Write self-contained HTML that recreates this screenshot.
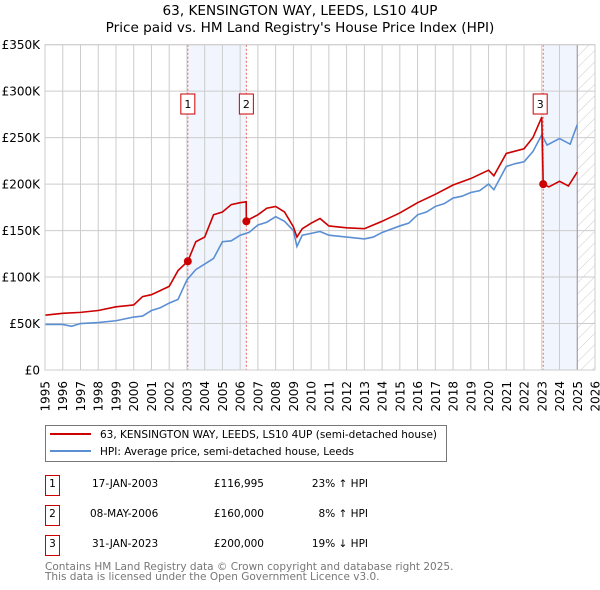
<!DOCTYPE html>
<html><head><meta charset="utf-8"><style>
body{margin:0;background:#fff;font-family:"DejaVu Sans","Liberation Sans",sans-serif;}
svg{display:block}
</style></head><body>
<svg id="chart" width="600" height="590" xmlns="http://www.w3.org/2000/svg" font-family="DejaVu Sans, Liberation Sans, sans-serif">
<defs><pattern id="hatch" width="8" height="8" patternUnits="userSpaceOnUse" patternTransform="rotate(45)"><line x1="0" y1="0" x2="0" y2="8" stroke="#ccc" stroke-width="1"/></pattern></defs>
<text x="300" y="15" text-anchor="middle" font-size="13.6">63, KENSINGTON WAY, LEEDS, LS10 4UP</text>
<text x="300" y="32" text-anchor="middle" font-size="13.6">Price paid vs. HM Land Registry's House Price Index (HPI)</text>
<g id="plot"></g>
<g>
<rect x="45.5" y="425.5" width="401" height="36" fill="#fff" stroke="#777"/>
<line x1="50" y1="434" x2="91" y2="434" stroke="#cc0000" stroke-width="2"/>
<text x="100" y="438" font-size="10.5">63, KENSINGTON WAY, LEEDS, LS10 4UP (semi-detached house)</text>
<line x1="50" y1="451" x2="91" y2="451" stroke="#5b8fd4" stroke-width="2"/>
<text x="100" y="455" font-size="10.5">HPI: Average price, semi-detached house, Leeds</text>
</g>
<g font-size="10.5">
<rect x="45.5" y="475.5" width="14" height="20" fill="#fff" stroke="#cc0000"/><text x="52.5" y="487" text-anchor="middle">1</text>
<text x="92" y="487">17-JAN-2003</text><text x="264" y="487" text-anchor="end">£116,995</text><text x="368" y="487" text-anchor="end">23% ↑ HPI</text>
<rect x="45.5" y="505.5" width="14" height="20" fill="#fff" stroke="#cc0000"/><text x="52.5" y="517" text-anchor="middle">2</text>
<text x="90" y="517">08-MAY-2006</text><text x="264" y="517" text-anchor="end">£160,000</text><text x="368" y="517" text-anchor="end">8% ↑ HPI</text>
<rect x="45.5" y="535.5" width="14" height="20" fill="#fff" stroke="#cc0000"/><text x="52.5" y="547" text-anchor="middle">3</text>
<text x="92" y="547">31-JAN-2023</text><text x="264" y="547" text-anchor="end">£200,000</text><text x="368" y="547" text-anchor="end">19% ↓ HPI</text>
</g>
<text x="45" y="570" font-size="10.5" fill="#777">Contains HM Land Registry data © Crown copyright and database right 2025.</text>
<text x="45" y="580" font-size="10.5" fill="#777">This data is licensed under the Open Government Licence v3.0.</text>
</svg>
<script>
const yTicks=[0,50,100,150,200,250,300,350];
const yLabels=["£0","£50K","£100K","£150K","£200K","£250K","£300K","£350K"];
const years=[1995,1996,1997,1998,1999,2000,2001,2002,2003,2004,2005,2006,2007,2008,2009,2010,2011,2012,2013,2014,2015,2016,2017,2018,2019,2020,2021,2022,2023,2024,2025,2026];
const hpiT=[1995,1996,1996.5,1997,1998,1999,1999.5,2000,2000.5,2001,2001.5,2002,2002.5,2003,2003.5,2004,2004.5,2005,2005.5,2006,2006.5,2007,2007.5,2008,2008.5,2009,2009.2,2009.5,2010,2010.5,2011,2012,2013,2013.5,2014,2015,2015.5,2016,2016.5,2017,2017.5,2018,2018.5,2019,2019.5,2020,2020.3,2021,2021.5,2022,2022.5,2023,2023.3,2024,2024.6,2025];
const hpiV=[49,49,47,50,51,53,55,57,58,64,67,72,76,97,108,114,120,138,139,145,148,156,159,165,160,150,133,145,147,149,145,143,141,143,148,155,158,167,170,176,179,185,187,191,193,200,194,219,222,224,235,253,242,249,243,264];
const priceT=[1995,1996,1997,1998,1999,2000,2000.5,2001,2002,2002.5,2003.05,2003.5,2004,2004.5,2005,2005.5,2006,2006.34,2006.35,2006.5,2007,2007.5,2008,2008.5,2009,2009.2,2009.5,2010,2010.5,2011,2012,2013,2014,2015,2016,2017,2018,2019,2020,2020.3,2021,2022,2022.5,2023.0,2023.08,2023.4,2024,2024.5,2025];
const priceV=[59,61,62,64,68,70,79,81,90,107,117,138,143,167,170,178,180,181,160,162,167,174,176,170,154,143,152,158,163,155,153,152,160,169,180,189,199,206,215,209,233,238,250,272,200,197,203,198,213];
const saleT=[2003.05,2006.35,2023.08];
const saleV=[116.995,160,200];
const X0=45,X1=595,Y0=370,Y1=44.7;
const xs=y=>X0+(y-1995)*(X1-X0)/31;
const ys=v=>Y0-(v/350)*(Y0-Y1);
const NS="http://www.w3.org/2000/svg";
const g=document.getElementById('plot');
function mk(t,a,p){const e=document.createElementNS(NS,t);for(const k in a)e.setAttribute(k,a[k]);(p||g).appendChild(e);return e;}
let e;
e=mk('rect',{x:xs(saleT[0]),y:Y1,width:xs(saleT[1])-xs(saleT[0]),height:Y0-Y1,fill:'#eef3fc',opacity:0.8});


e=mk('rect',{x:xs(saleT[2]),y:Y1,width:xs(2025)-xs(saleT[2]),height:Y0-Y1,fill:'#eef3fc',opacity:0.8});


e=mk('rect',{x:xs(2025),y:Y1,width:X1-xs(2025),height:Y0-Y1,fill:'url(#hatch)'});


yTicks.forEach((v,i)=>{
 e=mk('line',{x1:X0,x2:X1,y1:ys(v),y2:ys(v),stroke:'#ccc','stroke-width':1});
 
 
 e=mk('text',{x:40,y:ys(v)+4.5,'text-anchor':'end','font-size':'12'});e.textContent=yLabels[i];
 
 
});
years.forEach(y=>{
 e=mk('line',{x1:xs(y),x2:xs(y),y1:Y1,y2:Y0,stroke:'#ccc','stroke-width':1});
 
 
 e=mk('text',{x:0,y:0,'font-size':'12',transform:`translate(${xs(y)+4.5},${Y0+11}) rotate(-90)`,'text-anchor':'end'});e.textContent=y;
 
 
});
e=mk('line',{x1:xs(2025),x2:xs(2025),y1:Y1,y2:Y0,stroke:'#999','stroke-width':1});


saleT.forEach((t,i)=>{
 e=mk('line',{x1:xs(t),x2:xs(t),y1:Y1,y2:Y0,stroke:'#e66','stroke-width':1,'stroke-dasharray':'2,2'});
 
 
});
e=mk('polyline',{points:hpiT.map((t,i)=>xs(t)+','+ys(hpiV[i])).join(' '),fill:'none',stroke:'#5b8fd4','stroke-width':1.6});


e=mk('polyline',{points:priceT.map((t,i)=>xs(t)+','+ys(priceV[i])).join(' '),fill:'none',stroke:'#cc0000','stroke-width':1.6});


saleT.forEach((t,i)=>{
 e=mk('circle',{cx:xs(t),cy:ys(saleV[i]),r:4,fill:'#cc0000'});
 
 
 const bx=xs(t)-(i==2?3:0)-7;
 e=mk('rect',{x:bx,y:94,width:14,height:20,fill:'#fff',stroke:'#cc0000'});
 
 
 e=mk('text',{x:bx+7,y:108,'text-anchor':'middle','font-size':'11'});e.textContent=String(i+1);
 
 
});
e=mk('rect',{x:X0,y:Y1,width:X1-X0,height:Y0-Y1,fill:'none',stroke:'#ccc'});


</script>
</body></html>
